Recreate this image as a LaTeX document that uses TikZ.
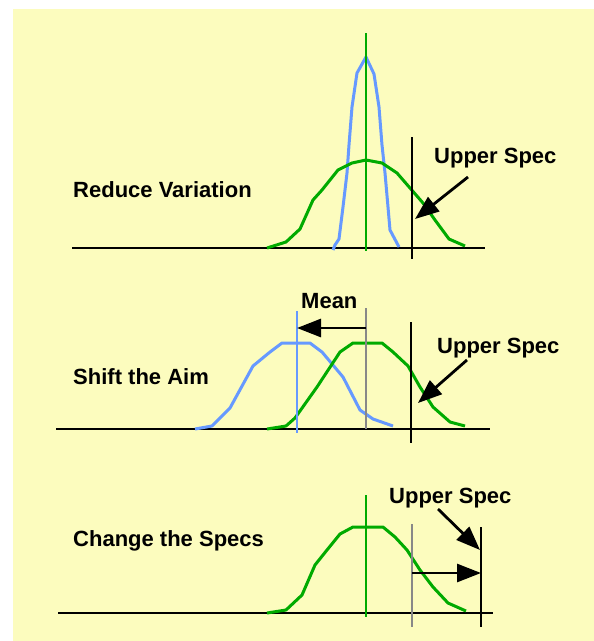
\documentclass[tikz,border=0pt]{standalone}
\usepackage{fontspec}
\setmainfont{Liberation Sans}
\usetikzlibrary{arrows.meta}
\definecolor{SlideYellow}{RGB}{252,252,190}
\definecolor{CurveGreen}{RGB}{0,170,0}
\definecolor{CurveBlue}{RGB}{102,153,255}
\definecolor{MeanGray}{RGB}{136,136,136}

\begin{document}
\begin{tikzpicture}[x=1pt,y=-1pt,
  axis/.style={line width=2.2pt},
  specline/.style={line width=2.5pt},
  curve/.style={line width=3pt,line join=round},
  lbl/.style={font=\fontsize{22}{26}\selectfont\bfseries,anchor=base west,inner sep=0pt},
  pointer/.style={line width=2.8pt,-{Triangle[length=24pt,width=18pt]}}]
\useasboundingbox (0,0) rectangle (594,641);
\fill[SlideYellow] (13,9) rectangle (594,641);

% reduce variation
\node[lbl] (reduce) at (73,197) {Reduce Variation};
\draw[axis] (72,248) -- (485,248);
\draw[curve,CurveBlue] plot coordinates {(333,250) (335,245) (339,239) (343,207) (347,173)
  (349,145) (352,107) (357,73) (366,57) (374,74) (379,107) (382,145) (385,173) (388,207) (390,230) (399,247)};
\draw[curve,CurveGreen] plot coordinates {(267,248) (286,242) (300,229) (313,200) (322,190) (338,170)
  (352,163) (366,160) (382,163) (397,173) (410,188) (423,203) (435,220) (449,239) (465,246)};
\draw[CurveGreen,line width=2.8pt] (366,33) -- (366,251);
\draw[specline] (412,137) -- (412,259);
\node[lbl] (upper1) at (434,163) {Upper Spec};
\coordinate (tail1) at (468,177);
\coordinate (tip1) at (415,219);
\draw[pointer] (tail1) -- (tip1);

% shift the aim
\node[lbl] (shift) at (73,384) {Shift the Aim};
\draw[axis] (56,429) -- (490,429);
\draw[curve,CurveBlue] plot coordinates {(195,429) (212,426) (230,408) (253,366) (270,352) (282,343)
  (310,343) (322,352) (343,377) (360,410) (373,419) (393,426)};
\draw[curve,CurveGreen] plot coordinates {(267,429) (286,426) (295,418) (317,387) (340,352) (353,343)
  (382,343) (393,352) (408,366) (420,387) (433,407) (450,422) (465,426)};
\draw[CurveBlue,line width=2.8pt] (297,311) -- (297,433);
\draw[MeanGray,line width=2.8pt] (366,308) -- (366,429);
\draw[specline] (411,322) -- (411,443);
\node[lbl] (mean) at (301,308) {Mean};
\coordinate (oldmean) at (366,328);
\coordinate (newmean) at (297,328);
\draw[pointer] (oldmean) -- (newmean);
\node[lbl] (upper2) at (437,353) {Upper Spec};
\coordinate (tail2) at (467,360);
\coordinate (tip2) at (418,403);
\draw[pointer] (tail2) -- (tip2);

% change the specs
\node[lbl] (change) at (73,546) {Change the Specs};
\draw[axis] (58,613) -- (493,613);
\draw[curve,CurveGreen] plot coordinates {(267,613) (286,610) (302,595) (315,565) (327,550) (340,534)
  (353,527) (383,527) (395,537) (407,550) (420,570) (433,587) (448,603) (466,611)};
\draw[CurveGreen,line width=2.8pt] (366,495) -- (366,617);
\draw[MeanGray,line width=2.8pt] (412,524) -- (412,627);
\draw[specline] (481,527) -- (481,627);
\node[lbl] (upper3) at (389,503) {Upper Spec};
\coordinate (oldspec) at (412,573);
\coordinate (newspec) at (481,573);
\draw[pointer] (oldspec) -- (newspec);
\coordinate (tail3) at (438,509);
\coordinate (tip3) at (480,550);
\draw[pointer] (tail3) -- (tip3);
\end{tikzpicture}
\end{document}
